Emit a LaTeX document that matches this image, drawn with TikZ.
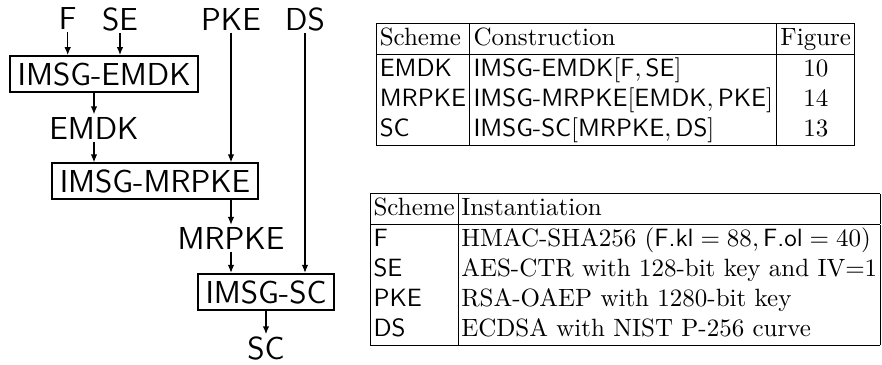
\documentclass[tikz,border=0pt]{standalone}
\usepackage{amsmath}
\usepackage{tikz}
\usetikzlibrary{arrows.meta,positioning}

\tikzset{
  blk/.style={draw, line width=0.8pt, inner xsep=3pt, inner ysep=0pt,
    minimum height=14.4pt, font=\fontsize{12.7}{15}\selectfont\sffamily},
  lbl/.style={inner sep=0.8pt, font=\fontsize{12.7}{15}\selectfont\sffamily},
  flow/.style={-{Latex[length=3.2pt,width=2.6pt]}, line width=0.6pt},
  tab/.style={inner sep=0pt, font=\fontsize{10}{12}\selectfont}
}

\begin{document}
\begin{tikzpicture}[x=0.4pt,y=-0.4pt]
\useasboundingbox (0,0) rectangle (882,365);
% primitives
\node [lbl] (f) at (67.7,19) {F};
\node [lbl] (se) at (120,19) {SE};
\node [lbl] (pke) at (231,19) {PKE};
\node [lbl] (ds) at (305,19) {DS};
% constructions
\node [blk] (emdkbox) at (104.2,74.2) {IMSG-EMDK};
\node [lbl] (emdk) at (94,128) {EMDK};
\node [blk] (mrpkebox) at (155,181.5) {IMSG-MRPKE};
\node [lbl] (mrpke) at (231,238.5) {MRPKE};
\node [blk] (scbox) at (266,292) {IMSG-SC};
\node [lbl] (sc) at (266,348.5) {SC};
\draw [flow] (f) -- (f |- emdkbox.north);
\draw [flow] (se) -- (se |- emdkbox.north);
\draw [flow] (emdk |- emdkbox.south) -- (emdk);
\draw [flow] (emdk) -- (emdk |- mrpkebox.north);
\draw [flow] (pke) -- (pke |- mrpkebox.north);
\draw [flow] (mrpke |- mrpkebox.south) -- (mrpke);
\draw [flow] (mrpke) -- (mrpke |- scbox.north);
\draw [flow] (ds) -- (ds |- scbox.north);
\draw [flow] (scbox) -- (sc);
% tables
\node [tab, anchor=north west] (tabcon) at (375.5,22.7) {%
  \setlength{\tabcolsep}{1.5pt}%
  \begin{tabular}{|l|l|c|}
  \hline
  Scheme & Construction & Figure\\
  \hline
  \textsf{EMDK} & $\textsf{IMSG-EMDK}[\textsf{F}, \textsf{SE}]$ & 10\\
  \textsf{MRPKE} & $\textsf{IMSG-MRPKE}[\textsf{EMDK}, \textsf{PKE}]$ & 14\\
  \textsf{SC} & $\textsf{IMSG-SC}[\textsf{MRPKE}, \textsf{DS}]$ & 13\\
  \hline
  \end{tabular}};
\node [tab, anchor=south east] (tabinst) at (881,347) {%
  \setlength{\tabcolsep}{1.3pt}%
  \begin{tabular}{|l|l|}
  \hline
  Scheme & Instantiation\\
  \hline
  \textsf{F} & HMAC-SHA256 ($\textsf{F.kl} = 88, \textsf{F.ol} = 40$)\\
  \textsf{SE} & AES-CTR with 128-bit key and IV$=$1\\
  \textsf{PKE} & RSA-OAEP with 1280-bit key\\
  \textsf{DS} & ECDSA with NIST P-256 curve\\
  \hline
  \end{tabular}};
\end{tikzpicture}
\end{document}
